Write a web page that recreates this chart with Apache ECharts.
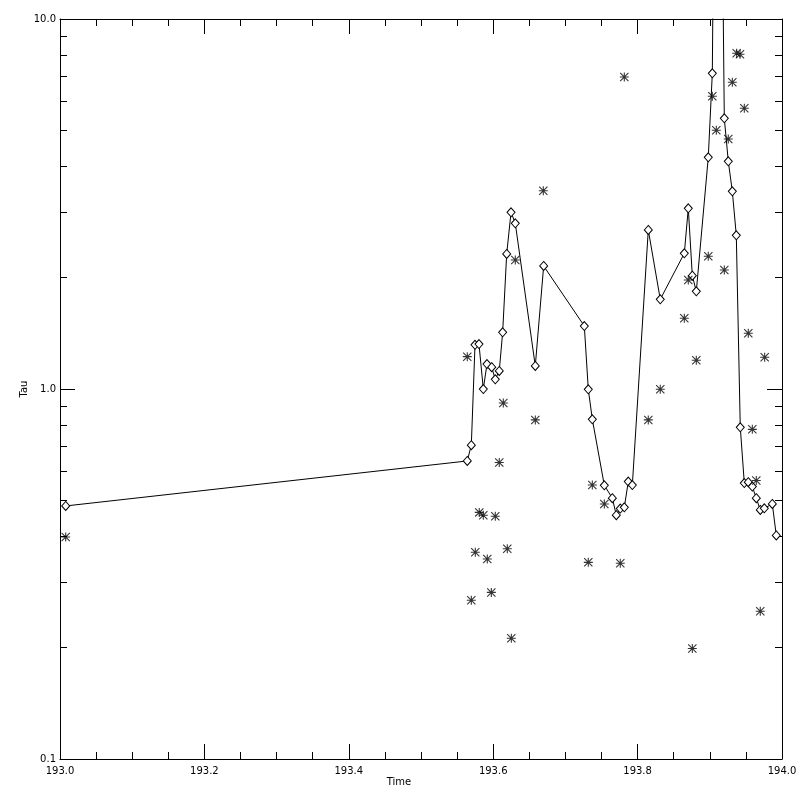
<!DOCTYPE html>
<html><head><meta charset="utf-8">
<script src="https://cdn.jsdelivr.net/npm/echarts@6/dist/echarts.min.js"></script>
<style>html,body{margin:0;padding:0;background:#fff}#c{width:800px;height:800px}</style>
</head><body><div id="c"></div>
<script>
const lineTime = [193.0079, 193.5641, 193.5697, 193.5748, 193.5803, 193.5863, 193.5914, 193.5979, 193.6029, 193.6084,
  193.6131, 193.6187, 193.6247, 193.6306, 193.6583, 193.6699, 193.7262, 193.7317, 193.7373, 193.7539,
  193.7650, 193.7705, 193.7760, 193.7816, 193.7871, 193.7927, 193.8148, 193.8314, 193.8647, 193.8702,
  193.8758, 193.8813, 193.8979, 193.9035, 193.9090, 193.9146, 193.9201, 193.9256, 193.9312, 193.9367,
  193.9422, 193.9478, 193.9533, 193.9589, 193.9644, 193.9699, 193.9755, 193.9866, 193.9921];
const lineTau = [0.483, 0.639, 0.705, 1.317, 1.323, 1.0, 1.168, 1.145, 1.062, 1.119,
  1.423, 2.317, 3.003, 2.804, 1.154, 2.150, 1.480, 0.998, 0.828, 0.549,
  0.507, 0.456, 0.475, 0.479, 0.562, 0.550, 2.690, 1.747, 2.327, 3.078,
  2.024, 1.836, 4.229, 7.133, 150, 60, 5.390, 4.125, 3.422, 2.603,
  0.788, 0.557, 0.560, 0.545, 0.507, 0.471, 0.476, 0.489, 0.402];
const starTime = [193.0079, 193.5641, 193.5697, 193.5752, 193.5807, 193.5863, 193.5918, 193.5974, 193.6029, 193.6084,
  193.6140, 193.6195, 193.6251, 193.6306, 193.6583, 193.6694, 193.7317, 193.7373, 193.7539, 193.7760,
  193.7816, 193.8148, 193.8314, 193.8647, 193.8702, 193.8758, 193.8813, 193.8979, 193.9035, 193.9090,
  193.9201, 193.9256, 193.9312, 193.9372, 193.9418, 193.9478, 193.9533, 193.9589, 193.9644, 193.9699,
  193.9760];
const starTau = [0.398, 1.223, 0.2685, 0.362, 0.464, 0.456, 0.347, 0.282, 0.453, 0.633,
  0.917, 0.370, 0.212, 2.232, 0.825, 3.435, 0.340, 0.550, 0.489, 0.338,
  6.97, 0.825, 0.998, 1.553, 1.970, 0.199, 1.196, 2.284, 6.18, 5.004,
  2.097, 4.739, 6.745, 8.08, 8.03, 5.737, 1.414, 0.778, 0.566, 0.2507,
  1.218];
const xMin = 193.0, xMax = 194.0, xStep = 0.2;
const yMin = 0.1, yMax = 10;
const yMinorTicks = [0.2, 0.3, 0.4, 0.5, 0.6, 0.7, 0.8, 0.9, 2, 3, 4, 5, 6, 7, 8, 9];
const xName = 'Time', yName = 'Tau';

const FONT = 'DejaVu Sans';
const black = '#000';
const asteriskPath = 'path://M4.4 0H5.6V10H4.4Z M0 4.4H10V5.6H0Z M0.85 0L10 9.15L9.15 10L0 0.85Z M9.15 0L10 0.85L0.85 10L0 9.15Z M3.5 3.5H6.5V6.5H3.5Z';

function xAxisDef(pos, labels) {
  return {
    type: 'value', position: pos, min: xMin, max: xMax, interval: xStep,
    name: labels ? xName : '', nameLocation: 'middle', nameGap: 18, nameMoveOverlap: false,
    nameTextStyle: { fontFamily: FONT, fontSize: 10, color: black, padding: [0, 44, 0, 0] },
    axisLine: { show: true, onZero: false, lineStyle: { color: black, width: 1 } },
    axisTick: { show: true, inside: true, length: 15, lineStyle: { color: black } },
    minorTick: { show: true, splitNumber: 4, length: 7, lineStyle: { color: black } },
    axisLabel: { show: labels, margin: 7, fontFamily: FONT, fontSize: 10, color: black,
      formatter: v => v.toFixed(1) },
    splitLine: { show: false }, minorSplitLine: { show: false }
  };
}
function yAxisDef(pos, labels, minor) {
  const a = {
    type: 'log', logBase: 10, position: pos, min: yMin, max: yMax,
    name: labels ? yName : '', nameLocation: 'middle', nameGap: 31, nameRotate: 90, nameMoveOverlap: false,
    nameTextStyle: { fontFamily: FONT, fontSize: 10, color: black },
    axisLine: { show: !minor, onZero: false, lineStyle: { color: black, width: 1 } },
    axisTick: { show: true, inside: true, length: minor ? 7 : 15, lineStyle: { color: black } },
    axisLabel: { show: labels, margin: 4, fontFamily: FONT, fontSize: 10, color: black,
      formatter: v => Number(v).toFixed(1) },
    splitLine: { show: false }
  };
  if (minor) a.axisTick.customValues = yMinorTicks;
  return a;
}

const chart = echarts.init(document.getElementById('c'), null, { renderer: 'canvas' });
chart.setOption({
  backgroundColor: '#fff',
  animation: false,
  grid: { left: 60, right: 18, top: 19, bottom: 41, containLabel: false },
  xAxis: [xAxisDef('bottom', true), xAxisDef('top', false)],
  yAxis: [yAxisDef('left', true, false), yAxisDef('left', false, true),
          yAxisDef('right', false, false), yAxisDef('right', false, true)],
  series: [
    {
      type: 'line', xAxisIndex: 0, yAxisIndex: 0,
      data: lineTime.map((t, i) => [t, lineTau[i]]),
      symbol: 'diamond', symbolSize: [8, 9], showAllSymbol: true,
      lineStyle: { color: black, width: 1 },
      itemStyle: { color: '#fff', borderColor: black, borderWidth: 1 },
      clip: true, z: 3
    },
    {
      type: 'scatter', xAxisIndex: 0, yAxisIndex: 0,
      data: starTime.map((t, i) => [t, starTau[i]]),
      symbol: asteriskPath, symbolSize: 9,
      itemStyle: { color: black },
      clip: true, z: 4
    }
  ]
});
</script>
</body></html>
